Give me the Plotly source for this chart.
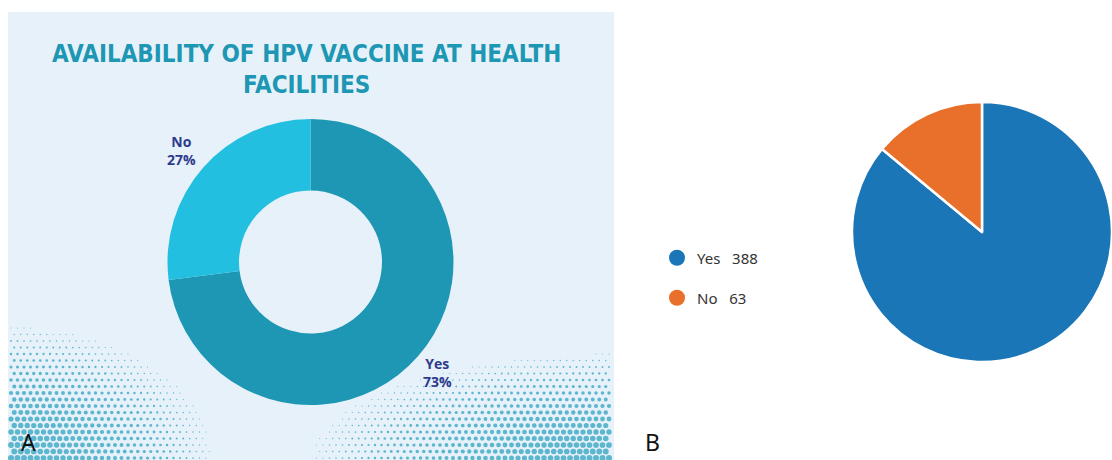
import numpy as np
import plotly.graph_objects as go

# ---- data ----
title_a = "AVAILABILITY OF HPV VACCINE AT HEALTH<br>FACILITIES"
labels_a = ["Yes", "No"]
pct_a = [73, 27]
labels_b = ["Yes", "No"]
counts_b = [388, 63]
panel_letters = ["A", "B"]

W, H = 1112, 460
TEAL = "#1d97b3"
CYAN = "#22bfe0"
NAVY = "#2d3a8c"
BLUE_B = "#1a76b6"
ORANGE_B = "#e8702a"

fig = go.Figure()

# ---- decorative halftone dots (pixel axes) ----
dx_list, dy_list, ds_list = [], [], []
sp = 6.5
for row, yy in enumerate(np.arange(458, 300, -sp)):
    off = (sp / 2) if row % 2 else 0
    for xx in np.arange(11 + off, 612, sp):
        d1 = np.sqrt(((xx - 8) / 230.0) ** 2 + ((460 - yy) / 150.0) ** 2)
        d2 = np.sqrt(((614 - xx) / 340.0) ** 2 + ((460 - yy) / 120.0) ** 2)
        s = max(6.0 * (1 - d1 ** 1.5), 6.0 * (1 - d2 ** 1.5))
        if s > 1.0:
            dx_list.append(xx)
            dy_list.append(yy)
            ds_list.append(s)
fig.add_trace(go.Scatter(x=dx_list, y=dy_list, mode="markers",
                         marker=dict(size=ds_list, color="#1f9cba", line=dict(width=0)),
                         hoverinfo="skip", showlegend=False))

# ---- donut A ----
cxA, cyA, rA = 310.5, 262, 143
fig.add_trace(go.Pie(
    labels=labels_a, values=pct_a, hole=0.5, sort=False, direction="clockwise",
    rotation=0, textinfo="none", showlegend=False,
    marker=dict(colors=[TEAL, CYAN], line=dict(width=0)),
    domain=dict(x=[(cxA - rA) / W, (cxA + rA) / W],
                y=[(H - cyA - rA) / H, (H - cyA + rA) / H]),
))

# ---- pie B ----
cxB, cyB, rB = 982, 232, 130
fig.add_trace(go.Pie(
    labels=labels_b, values=counts_b, sort=False, direction="clockwise",
    rotation=0, textinfo="none", showlegend=False,
    marker=dict(colors=[BLUE_B, ORANGE_B], line=dict(width=2.5, color="white")),
    domain=dict(x=[(cxB - rB) / W, min(1.0, (cxB + rB) / W)],
                y=[(H - cyB - rB) / H, (H - cyB + rB) / H]),
))

# legend entries for B (circles)
legend_names = ["legend", "legend2"]
for lab, cnt, col, lg in zip(labels_b, counts_b, [BLUE_B, ORANGE_B], legend_names):
    fig.add_trace(go.Scatter(x=[None], y=[None], mode="markers",
                             marker=dict(size=17, color=col, symbol="circle"),
                             name=f"{lab}&nbsp;&nbsp;&nbsp;{cnt}", legend=lg, showlegend=True))

legend_style = dict(xanchor="left", yanchor="middle", bgcolor="rgba(0,0,0,0)",
                    font=dict(family="Noto Sans, Open Sans, sans-serif", size=15, color="#333333"),
                    itemwidth=30, borderwidth=0)

annotations = []
# title
annotations.append(dict(text=f"<b>{title_a}</b>", x=306 / W, y=1 - 38 / H, xref="paper", yref="paper",
                        xanchor="center", yanchor="top", showarrow=False,
                        font=dict(family="DejaVu Sans Condensed, Liberation Sans Narrow, sans-serif",
                                  size=24, color=TEAL)))
# donut labels
lab_pos = {"No": (181, 150), "Yes": (437, 372)}
for lab, p in zip(labels_a, pct_a):
    x, y = lab_pos[lab]
    annotations.append(dict(text=f"<b>{lab}</b><br><b>{p}%</b>", x=x / W, y=1 - y / H,
                            xref="paper", yref="paper", xanchor="center", yanchor="middle",
                            showarrow=False, align="center",
                            font=dict(family="Open Sans, Noto Sans, sans-serif", size=14, color=NAVY)))
# panel letters
for letter, (x, y) in zip(panel_letters, [(28, 442), (652, 442)]):
    annotations.append(dict(text=letter, x=x / W, y=1 - y / H, xref="paper", yref="paper",
                            xanchor="center", yanchor="middle", showarrow=False,
                            font=dict(family="Noto Sans, Open Sans, sans-serif", size=23, color="#111111")))

fig.update_layout(
    width=W, height=H, margin=dict(l=0, r=0, t=0, b=0),
    paper_bgcolor="white", plot_bgcolor="rgba(0,0,0,0)",
    xaxis=dict(range=[0, W], visible=False, fixedrange=True, domain=[0, 1]),
    yaxis=dict(range=[H, 0], visible=False, fixedrange=True, domain=[0, 1]),
    shapes=[dict(type="rect", xref="paper", yref="paper", layer="below",
                 x0=8 / W, x1=614 / W, y0=0, y1=1 - 12 / H,
                 fillcolor="#e7f1fa", line=dict(width=0))],
    annotations=annotations,
    legend=dict(x=657 / W, y=1 - 258 / H, **legend_style),
    legend2=dict(x=657 / W, y=1 - 298 / H, **legend_style),
    hovermode=False,
)

fig.write_html("out.html")
